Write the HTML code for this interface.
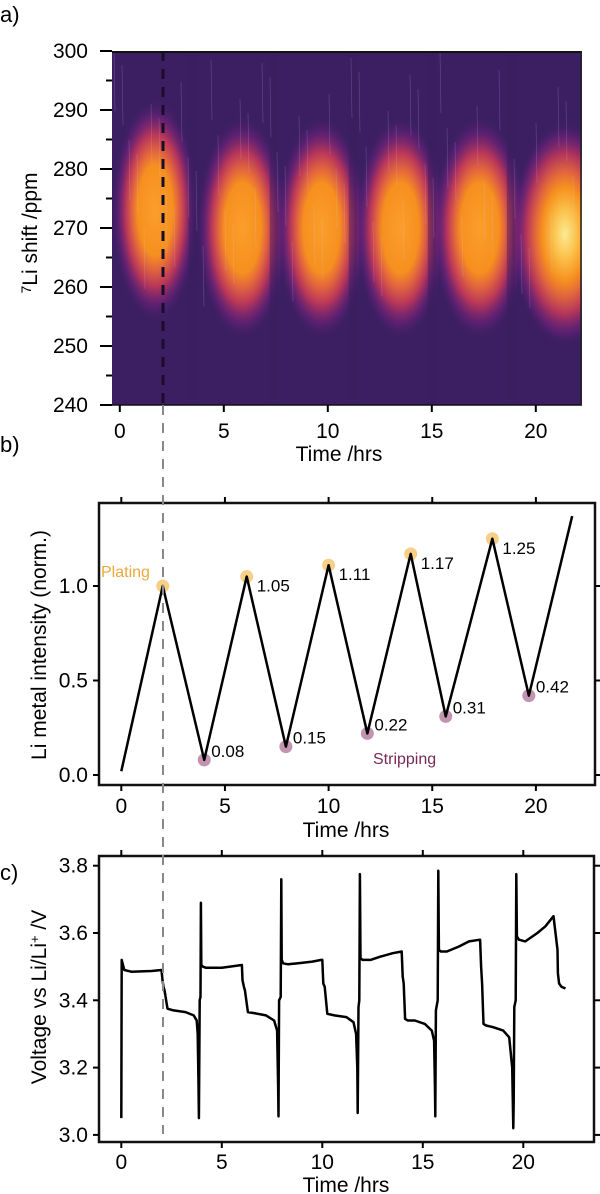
<!DOCTYPE html>
<html><head><meta charset="utf-8">
<style>
html,body{margin:0;padding:0;background:#fff;}
svg{display:block;font-family:"Liberation Sans",sans-serif;}
</style></head>
<body>
<svg id="fig" width="600" height="1194" viewBox="0 0 600 1194">
<defs>
  <clipPath id="clipA"><rect x="112" y="51" width="470" height="354"/></clipPath>
  <radialGradient id="blobG">
    <stop offset="0" stop-color="#fb9e2a"/>
    <stop offset="0.4" stop-color="#f6901f"/>
    <stop offset="0.52" stop-color="#e4683c"/>
    <stop offset="0.68" stop-color="#b8365a"/>
    <stop offset="0.85" stop-color="#71217a" stop-opacity="0.6"/>
    <stop offset="1" stop-color="#3c1f63" stop-opacity="0"/>
  </radialGradient>
  <radialGradient id="blobY">
    <stop offset="0" stop-color="#fbeb92"/>
    <stop offset="0.22" stop-color="#fbc04a"/>
    <stop offset="0.42" stop-color="#f6901f"/>
    <stop offset="0.56" stop-color="#e0643e"/>
    <stop offset="0.72" stop-color="#b0345c"/>
    <stop offset="0.88" stop-color="#71217a" stop-opacity="0.6"/>
    <stop offset="1" stop-color="#3c1f63" stop-opacity="0"/>
  </radialGradient>
</defs>
<g id="panelA"></g>
<g id="panelB"></g>
<g id="panelC"></g>
<line x1="163" y1="405" x2="163" y2="1134" stroke="#888" stroke-width="2" stroke-dasharray="10,8"/>
</svg>
<script>
// ---- Panel a data ----
const blobTimes = [1.7, 5.9, 9.7, 13.5, 17.3, 21.4];
const blobShifts = [273, 270, 270, 270, 270, 269];
const blobWidths = [2.1, 2.2, 2.2, 2.2, 2.3, 2.6];
const aYTicks = [300, 290, 280, 270, 260, 250, 240];
const aXTicks = [0, 5, 10, 15, 20];
// ---- Panel b data ----
const bTimes = [0, 2.0, 4.0, 6.05, 7.94, 10.0, 11.87, 13.96, 15.65, 17.9, 19.66, 21.75];
const bValues = [0.02, 1.0, 0.08, 1.05, 0.15, 1.11, 0.22, 1.17, 0.31, 1.25, 0.42, 1.37];
const platingTimes = [2.0, 6.05, 10.0, 13.96, 17.9];
const platingValues = [1.0, 1.05, 1.11, 1.17, 1.25];
const platingLabels = ["", "1.05", "1.11", "1.17", "1.25"];
const strippingTimes = [4.0, 7.94, 11.87, 15.65, 19.66];
const strippingValues = [0.08, 0.15, 0.22, 0.31, 0.42];
const strippingLabels = ["0.08", "0.15", "0.22", "0.31", "0.42"];
const bYTicks = [0.0, 0.5, 1.0];
const bYTickLabels = ["0.0", "0.5", "1.0"];
// ---- Panel c data ----
const cTimes = [0, 0.02, 0.15, 0.5, 1.5, 2.0, 2.05, 2.1, 2.15, 2.3, 2.6, 3.2, 3.6, 3.75, 3.8, 3.84, 3.86, 3.9, 3.94, 3.96, 3.98, 4.05, 4.2, 5.0, 6.0, 6.03, 6.1, 6.15, 6.3, 6.6, 7.2, 7.6, 7.75, 7.8, 7.82, 7.85, 7.93, 7.96, 7.98, 8.05, 8.3, 8.8, 9.5, 9.95, 10.0, 10.05, 10.12, 10.25, 10.6, 11.2, 11.55, 11.68, 11.74, 11.76, 11.8, 11.84, 11.87, 11.9, 12.0, 12.4, 12.9, 13.5, 13.95, 14.0, 14.05, 14.12, 14.25, 14.6, 15.1, 15.45, 15.56, 15.6, 15.62, 15.65, 15.74, 15.77, 15.8, 15.9, 16.2, 16.8, 17.3, 17.85, 17.9, 17.95, 18.02, 18.15, 18.5, 19.0, 19.3, 19.45, 19.5, 19.52, 19.55, 19.62, 19.65, 19.68, 19.78, 20.1, 20.7, 21.1, 21.5, 21.7, 21.72, 21.78, 21.9, 22.1, 22.37];
const cValues = [3.05, 3.52, 3.49, 3.485, 3.487, 3.49, 3.46, 3.44, 3.43, 3.375, 3.37, 3.365, 3.355, 3.34, 3.3, 3.15, 3.05, 3.4, 3.41, 3.69, 3.505, 3.5, 3.497, 3.497, 3.505, 3.46, 3.44, 3.43, 3.365, 3.362, 3.355, 3.34, 3.31, 3.15, 3.055, 3.4, 3.41, 3.76, 3.52, 3.51, 3.507, 3.51, 3.515, 3.52, 3.52, 3.45, 3.44, 3.36, 3.355, 3.35, 3.335, 3.3, 3.2, 3.065, 3.38, 3.4, 3.775, 3.525, 3.52, 3.52, 3.53, 3.54, 3.545, 3.47, 3.45, 3.345, 3.34, 3.34, 3.33, 3.31, 3.28, 3.15, 3.055, 3.37, 3.4, 3.785, 3.55, 3.545, 3.545, 3.56, 3.575, 3.58, 3.5, 3.45, 3.33, 3.325, 3.32, 3.31, 3.29, 3.2, 3.02, 3.1, 3.38, 3.4, 3.775, 3.59, 3.58, 3.575, 3.6, 3.62, 3.65, 3.55, 3.48, 3.45, 3.44, 3.435];
const cYTicks = [3.0, 3.2, 3.4, 3.6, 3.8];
const cYTickLabels = ["3.0", "3.2", "3.4", "3.6", "3.8"];
const xTicks = [0, 5, 10, 15, 20];

const NS = "http://www.w3.org/2000/svg";
function mk(tag, attrs, parent) {
  const e = document.createElementNS(NS, tag);
  for (const k in attrs) e.setAttribute(k, attrs[k]);
  parent.appendChild(e);
  return e;
}
function txt(parent, x, y, s, size, anchor, fill) {
  const t = mk("text", {x: x, y: y, "font-size": size, "text-anchor": anchor || "middle", fill: fill || "#000"}, parent);
  t.textContent = s;
  return t;
}

// ===== Panel A =====
const A = document.getElementById("panelA");
const axA = t => 119.8 + 20.8 * t;
const ayA = v => 51 + (300 - v) * 5.9;
const aClip = mk("g", {"clip-path": "url(#clipA)"}, A);
const bg = mk("rect", {x: 112, y: 51, width: 470, height: 354, fill: "#3c1f63"}, aClip);


blobTimes.forEach((t, i) => {
  const el = mk("ellipse", {cx: axA(t), cy: ayA(blobShifts[i]), rx: blobWidths[i] * 20.8, ry: 19 * 5.9,
    fill: i === blobTimes.length - 1 ? "url(#blobY)" : "url(#blobG)"}, aClip);
  
  
});
[3.5, 7.4, 11.2, 15.0, 18.8].forEach(t => {
  const el = mk("rect", {x: axA(t) - 4, y: 51, width: 8, height: 354, fill: "#3a1c5e", opacity: 0.45}, aClip);
  
  
});
for (let i = 0; i < 60; i++) {
  const x = 114 + ((i * 37) % 466);
  mk("line", {x1: x, y1: 51 + (i * 53) % 200, x2: x + 1, y2: 51 + (i * 53) % 200 + 60, stroke: "#d8c8ff", "stroke-width": 0.6, opacity: 0.25}, aClip);
}
mk("line", {x1: 163, y1: 51, x2: 163, y2: 405, stroke: "#1a0c2a", "stroke-width": 3, "stroke-dasharray": "10,8"}, aClip);
mk("line", {x1: 112, y1: 52, x2: 582, y2: 52, stroke: "#111", "stroke-width": 2}, A);
mk("line", {x1: 112, y1: 405, x2: 582, y2: 405, stroke: "#111", "stroke-width": 1.5}, A);
mk("line", {x1: 581, y1: 51, x2: 581, y2: 405, stroke: "#222", "stroke-width": 1.5}, A);
for (let v = 240; v <= 300; v += 5) {
  const major = v % 10 === 0;
  mk("line", {x1: major ? 100 : 106, y1: ayA(v), x2: 112, y2: ayA(v), stroke: "#000", "stroke-width": 2}, A);
}
aYTicks.forEach(v => {
  const t = txt(A, 88, ayA(v) + 7, String(v), 21, "end");
  
  
});
aXTicks.forEach(v => {
  mk("line", {x1: axA(v), y1: 405, x2: axA(v), y2: 412, stroke: "#000", "stroke-width": 2}, A);
  const t = txt(A, axA(v), 438, String(v), 21);
  
  
});
const aYL = mk("text", {x: 0, y: 0, "font-size": 21, "text-anchor": "middle", transform: "translate(37,233) rotate(-90)"}, A);
aYL.innerHTML = '<tspan font-size="14" dy="-6">7</tspan><tspan dy="6">Li  shift /ppm</tspan>';


const aXL = txt(A, 339, 461, "Time /hrs", 21);


const la = txt(A, 0, 22, "a)", 22, "start");



// ===== Panel B =====
const B = document.getElementById("panelB");
const axB = t => 121.3 + 20.73 * t;
const ayB = v => 775 - 189 * v;
const lb = txt(B, 0, 452, "b)", 22, "start");


platingTimes.forEach((t, i) => {
  const c = mk("circle", {cx: axB(t), cy: ayB(platingValues[i]), r: 6.5, fill: "#f3b64a", opacity: 0.65}, B);
  
  
});
strippingTimes.forEach((t, i) => {
  const c = mk("circle", {cx: axB(t), cy: ayB(strippingValues[i]), r: 6.5, fill: "#9a4d7a", opacity: 0.6}, B);
  
  
});
const bLine = mk("polyline", {points: bTimes.map((t, i) => axB(t) + "," + ayB(bValues[i])).join(" "), fill: "none", stroke: "#000", "stroke-width": 2.5, "stroke-linejoin": "round"}, B);


platingTimes.forEach((t, i) => {
  if (!platingLabels[i]) return;
  const l = txt(B, axB(t) + 10, ayB(platingValues[i]) + 15, platingLabels[i], 17, "start");
  
  
});
strippingTimes.forEach((t, i) => {
  const l = txt(B, axB(t) + 7, ayB(strippingValues[i]) - 3, strippingLabels[i], 17, "start");
  
  
});
const pl = txt(B, 101, 577, "Plating", 16, "start", "#eba93a");


const st = txt(B, 373, 764, "Stripping", 16, "start", "#7a2a58");


mk("rect", {x: 99, y: 503, width: 496, height: 282, fill: "none", stroke: "#111", "stroke-width": 2.5}, B);
bYTicks.forEach((v, i) => {
  mk("line", {x1: 93, y1: ayB(v), x2: 99, y2: ayB(v), stroke: "#000", "stroke-width": 2}, B);
  mk("line", {x1: 595, y1: ayB(v), x2: 601, y2: ayB(v), stroke: "#000", "stroke-width": 2}, B);
  const t = txt(B, 88, ayB(v) + 7, bYTickLabels[i], 21, "end");
  
  
});
xTicks.forEach(v => {
  mk("line", {x1: axB(v), y1: 785, x2: axB(v), y2: 791, stroke: "#000", "stroke-width": 2}, B);
  mk("line", {x1: axB(v), y1: 497, x2: axB(v), y2: 503, stroke: "#000", "stroke-width": 2}, B);
  const t = txt(B, axB(v), 813, String(v), 21);
  
  
});
const bYL = txt(B, 0, 0, "Li metal intensity (norm.)", 21);
bYL.setAttribute("transform", "translate(46,645) rotate(-90)");


const bXL = txt(B, 346, 837, "Time /hrs", 21);



// ===== Panel C =====
const C = document.getElementById("panelC");
const axC = t => 121.3 + 20.1 * t;
const ayC = v => 865.7 + (3.8 - v) * 336.5;
const lc = txt(C, 0, 880, "c)", 22, "start");


const cLine = mk("polyline", {points: cTimes.map((t, i) => axC(t).toFixed(1) + "," + ayC(cValues[i]).toFixed(1)).join(" "), fill: "none", stroke: "#000", "stroke-width": 2.5, "stroke-linejoin": "round"}, C);


mk("rect", {x: 99, y: 856, width: 495, height: 286, fill: "none", stroke: "#111", "stroke-width": 2.5}, C);
cYTicks.forEach((v, i) => {
  mk("line", {x1: 93, y1: ayC(v), x2: 99, y2: ayC(v), stroke: "#000", "stroke-width": 2}, C);
  mk("line", {x1: 594, y1: ayC(v), x2: 600, y2: ayC(v), stroke: "#000", "stroke-width": 2}, C);
  const t = txt(C, 88, ayC(v) + 7, cYTickLabels[i], 21, "end");
  
  
});
xTicks.forEach(v => {
  mk("line", {x1: axC(v), y1: 1142, x2: axC(v), y2: 1148, stroke: "#000", "stroke-width": 2}, C);
  mk("line", {x1: axC(v), y1: 850, x2: axC(v), y2: 856, stroke: "#000", "stroke-width": 2}, C);
  const t = txt(C, axC(v), 1169, String(v), 21);
  
  
});
const cYL = mk("text", {x: 0, y: 0, "font-size": 21, "text-anchor": "middle", transform: "translate(46,997) rotate(-90)"}, C);
cYL.innerHTML = 'Voltage vs Li/Li<tspan font-size="13" dy="-7">+</tspan><tspan dy="7"> /V</tspan>';


const cXL = txt(C, 346, 1192, "Time /hrs", 21);


</script>
</body></html>
